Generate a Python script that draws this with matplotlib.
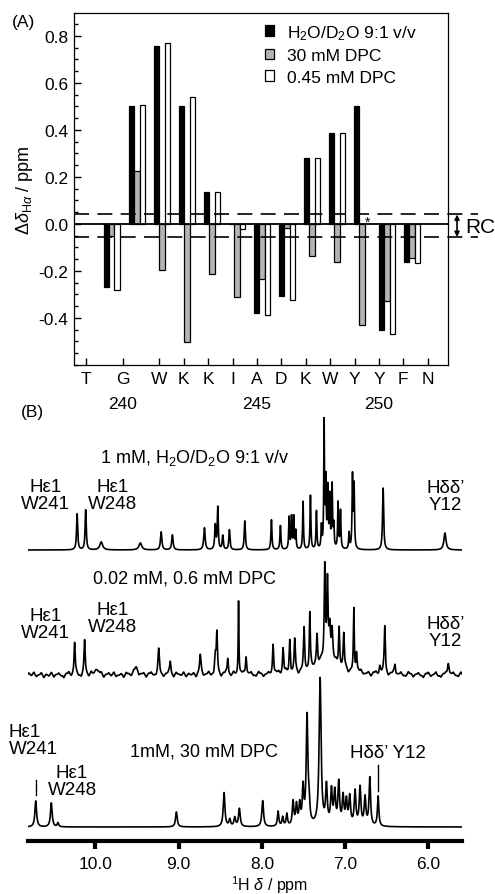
import numpy as np
import matplotlib
matplotlib.use("Agg")
import matplotlib.pyplot as plt
from matplotlib.patches import Patch
from matplotlib.ticker import MultipleLocator, FormatStrFormatter

plt.rcParams['font.family'] = ['Liberation Sans', 'DejaVu Sans']
plt.rcParams['mathtext.fontset'] = 'custom'
plt.rcParams['mathtext.rm'] = 'Liberation Sans'
plt.rcParams['mathtext.it'] = 'Liberation Sans:italic'
plt.rcParams['mathtext.bf'] = 'Liberation Sans:bold'
plt.rcParams['axes.unicode_minus'] = False

# --- (A) secondary H-alpha shifts per residue -------------------------------
residues = ['T', 'G', 'W', 'K', 'K', 'I', 'A', 'D', 'K', 'W', 'Y', 'Y', 'F', 'N']
residue_marks = [240, 245, 250]
shift_water = [-0.27, 0.50, 0.758, 0.50, 0.135, 0.0, -0.379, -0.309,
               0.28, 0.386, 0.50, -0.453, -0.161]
shift_dpc30 = [-0.05, 0.224, -0.196, -0.505, -0.215, -0.313, -0.234, -0.018,
               -0.136, -0.164, -0.432, -0.327, -0.147]
shift_dpc045 = [-0.28, 0.508, 0.772, 0.542, 0.135, -0.021, -0.386, -0.323,
                0.28, 0.386, np.nan, -0.47, -0.168]
rc_upper, rc_lower = 0.04, -0.056
series_labels = ['H$_2$O/D$_2$O 9:1 v/v', '30 mM DPC', '0.45 mM DPC']

# --- (B) 1D 1H spectra, amide/aromatic region: peak lists (ppm, height, hwhm)
water_pos = [10.22, 10.117, 9.93, 9.46, 9.21, 9.075, 8.69, 8.56, 8.53, 8.47,
             8.39, 8.205, 7.885, 7.777, 7.673, 7.644, 7.617, 7.593, 7.505,
             7.416, 7.344, 7.284, 7.252, 7.232, 7.208, 7.184, 7.156, 7.136,
             7.084, 7.055, 6.952, 6.911, 6.892, 6.543, 5.80]
water_h = [36, 40, 8, 7, 18, 15, 22, 24, 42, 14, 20, 29, 30, 24, 32, 32, 32,
           18, 48, 54, 38, 22, 124, 66, 58, 50, 62, 22, 46, 38, 16, 72, 62,
           62, 17]
water_w = [0.008, 0.008, 0.02, 0.02, 0.01, 0.01, 0.01, 0.008, 0.007, 0.008,
           0.008, 0.008, 0.007, 0.007, 0.006, 0.006, 0.006, 0.006, 0.006,
           0.006, 0.006, 0.006, 0.005, 0.006, 0.006, 0.006, 0.006, 0.006,
           0.006, 0.006, 0.006, 0.006, 0.006, 0.008, 0.015]

dilute_pos = [10.25, 10.13, 9.99, 9.51, 9.24, 9.10, 8.74, 8.56, 8.54, 8.41,
              8.28, 8.19, 7.865, 7.745, 7.665, 7.605, 7.493, 7.424, 7.337,
              7.244, 7.212, 7.184, 7.156, 7.22, 7.072, 7.016, 6.895, 6.863,
              6.583, 6.523, 6.40, 5.76]
dilute_h = [32, 34, 7, 9, 24, 14, 19, 18, 40, 16, 76, 20, 32, 25, 34, 33,
            42, 56, 30, 92, 74, 30, 30, 16, 40, 34, 62, 20, 8, 48, 11, 14]
dilute_w = [0.008, 0.008, 0.02, 0.02, 0.01, 0.01, 0.01, 0.01, 0.008, 0.008,
            0.005, 0.008, 0.008, 0.008, 0.008, 0.008, 0.008, 0.007, 0.008,
            0.008, 0.008, 0.01, 0.01, 0.15, 0.008, 0.008, 0.006, 0.008, 0.01,
            0.008, 0.01, 0.01]
# baseline noise of the dilute sample, one amplitude every 0.03 ppm
dilute_noise = [
    2, -1, 3, -2, 0, 2.5, -3, 1, -1.5, 3, -2.5, 0.5, 2, -1, -3, 1.5, 3, -2, 0, 2.5,
    -1.5, -3, 2, 1, -2.5, 3, -0.5, -2, 1.5, 2.5, -3, 0.5, 2, -1.5, 3, -2, -0.5, 1.5, -3, 2.5,
    1, -2, 3, -1, -2.5, 0.5, 2, -3, 1.5, 2.5, -1, -2, 3, 0, -2.5, 1, 2, -1.5, -3, 2.5,
    0.5, -1, 3, -2.5, 1.5, -0.5, 2, -3, 1, 2.5, -2, 0, 3, -1.5, -2.5, 2, 0.5, -3, 1.5, 2.5,
    -1, -2, 3, -0.5, -2.5, 1.5, 2, -3, 0.5, 2.5, -1.5, -2, 3, 1, -2.5, 0, 2, -1, -3, 1.5,
    2.5, -2, 0.5, 3, -1.5, -2.5, 1, 2, -3, 0.5, 2.5, -1, -2, 3, -0.5, 1.5, -2.5, 2, -3, 1,
    2.5, -1.5, 0, 3, -2, -1, 1.5, 2.5, -3, 0.5, 2, -2.5, 1, 3, -1.5, -0.5, 2, -3, 1.5, 2.5,
    -2, 0.5, 3, -1, -2.5, 1, 2, -3, 0, 2.5, -1.5, -2, 3, 1, -2.5, 0.5, 2, -1, -3, 1.5,
    2.5, -2, 0, 3, -1.5, -2.5, 1, 2, -3, 0.5, 2.5, -1, -2, 3]

micelle_pos = [10.717, 10.53, 10.45, 9.027, 8.454, 8.386, 8.325, 8.27, 7.99,
               7.805, 7.75, 7.70, 7.625, 7.584, 7.545, 7.505, 7.457, 7.433,
               7.30, 7.224, 7.164, 7.124, 7.076, 7.024, 6.984, 6.944, 6.88,
               6.82, 6.76, 6.703, 6.603]
micelle_h = [26, 24, 4, 15, 34, 7, 9, 18, 26, 15, 9, 12, 24, 20, 20, 36, 108,
             18, 147, 38, 34, 32, 42, 28, 24, 28, 34, 38, 28, 48, 30]
micelle_w = [0.012, 0.012, 0.01, 0.012, 0.012, 0.012, 0.012, 0.012, 0.012,
             0.01, 0.01, 0.01, 0.011, 0.011, 0.011, 0.011, 0.012, 0.01, 0.014,
             0.012, 0.012, 0.012, 0.012, 0.012, 0.012, 0.012, 0.012, 0.012,
             0.012, 0.011, 0.01]

fig = plt.figure(figsize=(4.95, 8.95), dpi=100)

# ---------------------------------------------------------------- panel B
# drawn first so that its (transparent) frame never hides panel A's labels
ax_b = fig.add_axes([28 / 495, 53 / 895, 434 / 495, 447 / 895])
ax_b.patch.set_visible(False)
ppm = np.linspace(10.81, 5.595, 6000)


def lorentz_sum(pos, height, hwhm):
    pos = np.asarray(pos)[:, None]
    height = np.asarray(height)[:, None]
    hwhm = np.asarray(hwhm)[:, None]
    return (height * hwhm ** 2 / ((ppm - pos) ** 2 + hwhm ** 2)).sum(axis=0)


noise_pos = 10.80 - 0.03 * np.arange(len(dilute_noise))
trace_water = lorentz_sum(water_pos, water_h, water_w)
trace_dilute = (lorentz_sum(dilute_pos, dilute_h, dilute_w)
                + lorentz_sum(noise_pos, dilute_noise,
                              np.full(len(dilute_noise), 0.011)))
trace_micelle = lorentz_sum(micelle_pos, micelle_h, micelle_w)

offsets = [291, 166, 14]
for trace, off in zip([trace_water, trace_dilute, trace_micelle], offsets):
    ax_b.plot(ppm, trace + off, color='black', lw=1.2)

ax_b.set_xlim(10.81, 5.595)
ax_b.set_ylim(0, 447)
for side in ('top', 'right', 'left'):
    ax_b.spines[side].set_visible(False)
ax_b.spines['bottom'].set_linewidth(3)
ax_b.set_yticks([])
ax_b.set_xticks([10, 9, 8, 7, 6])
ax_b.xaxis.set_major_formatter(FormatStrFormatter('%.1f'))
ax_b.tick_params(axis='x', direction='out', length=6, width=3, pad=4.5,
                 labelsize=12.5)
ax_b.set_xlabel(r'$^1$H $\delta$ / ppm', fontsize=11.5)
ax_b.xaxis.label.set_va('center')
ax_b.xaxis.set_label_coords(0.557, -0.097)

fig.text(21 / 495, 1 - 413 / 895, '(B)', fontsize=12.5, va='center')

lab = dict(fontsize=13.5, ha='center', va='center', linespacing=1.05)
# top trace
ax_b.text(9.948, 384, '1 mM, H$_2$O/D$_2$O 9:1 v/v', fontsize=13,
          ha='left', va='center')
ax_b.text(10.597, 346, 'Hε1\nW241', **lab)
ax_b.text(9.792, 346, 'Hε1\nW248', **lab)
ax_b.text(5.79, 345, 'Hδδ’\nY12', **lab)
# middle trace
ax_b.text(10.03, 263, '0.02 mM, 0.6 mM DPC', fontsize=13, ha='left',
          va='center')
ax_b.text(10.597, 217, 'Hε1\nW241', **lab)
ax_b.text(9.792, 223, 'Hε1\nW248', **lab)
ax_b.text(5.79, 209, 'Hδδ’\nY12', **lab)
# bottom trace
ax_b.text(11.04, 101, 'Hε1\nW241', fontsize=13.5, ha='left', va='center',
          linespacing=1.05)
ax_b.text(10.28, 60, 'Hε1\nW248', **lab)
ax_b.text(9.587, 90, '1mM, 30 mM DPC', fontsize=13, ha='left', va='center')
ax_b.text(6.944, 88, 'Hδδ’ Y12', fontsize=13.5, ha='left', va='center')
ax_b.plot([10.717, 10.717], [46, 61], color='black', lw=1)
ax_b.plot([6.603, 6.603], [50, 76], color='black', lw=1)

# ---------------------------------------------------------------- panel A
ax_a = fig.add_axes([74 / 495, 529 / 895, 374 / 495, 352 / 895])
group_x = 239.05 + 1.025 * np.arange(len(shift_water))
bw = 0.22
ax_a.bar(group_x - bw, shift_water, bw, color='black', edgecolor='black',
         lw=0.9, label=series_labels[0])
ax_a.bar(group_x, shift_dpc30, bw, color='#b4b4b4', edgecolor='black',
         lw=0.9, label=series_labels[1])
ax_a.bar(group_x + bw, shift_dpc045, bw, color='white', edgecolor='black',
         lw=0.9, label=series_labels[2])

ax_a.set_xlim(237.5, 252.83)
ax_a.set_ylim(-0.601, 0.898)
ax_a.axhline(0, color='black', lw=1.3, zorder=3)

# random-coil band, drawn past the frame to the RC marker
x_end = 254.06
for yv in (rc_upper, rc_lower):
    ax_a.plot([237.5, x_end], [yv, yv], color='black', lw=1.2,
              dashes=(9, 5), clip_on=False, zorder=3)
ax_a.annotate('', xy=(253.2, rc_lower), xytext=(253.2, rc_upper),
              arrowprops=dict(arrowstyle='<|-|>', lw=1.2, color='black',
                              mutation_scale=7, shrinkA=0, shrinkB=0),
              annotation_clip=False)
ax_a.text(253.55, -0.011, 'RC', fontsize=15, ha='left', va='center')
ax_a.text(249.55, 0.01, '*', fontsize=10, ha='center', va='center')

tick_pos = np.r_[238, 239.5, np.arange(241, 253)]
ax_a.set_xticks(tick_pos)
ax_a.set_xticklabels(residues)
for num in residue_marks:
    xpos = tick_pos[residues.index('G')] if num == 240 else num
    ax_a.text(xpos, -0.108, str(num), fontsize=12.5, ha='center',
              va='center', transform=ax_a.get_xaxis_transform())

ax_a.yaxis.set_major_locator(MultipleLocator(0.2))
ax_a.yaxis.set_minor_locator(MultipleLocator(0.05))
ax_a.yaxis.set_major_formatter(FormatStrFormatter('%.1f'))
ax_a.set_yticks([-0.4, -0.2, 0.0, 0.2, 0.4, 0.6, 0.8])
ax_a.tick_params(axis='x', direction='in', length=5, width=1, pad=4.5,
                 labelsize=12.5)
ax_a.tick_params(axis='y', which='major', direction='in', length=5,
                 width=1, pad=4, labelsize=12.5)
ax_a.tick_params(axis='y', which='minor', direction='in', length=3, width=1)
for sp in ax_a.spines.values():
    sp.set_linewidth(0.9)
ax_a.set_ylabel(r'$\Delta\delta_{\mathrm{H}\alpha}$ / ppm', fontsize=13)
ax_a.yaxis.set_label_coords(-39 / 374, 0.5)

handles = [Patch(facecolor='black', edgecolor='black', lw=0.9),
           Patch(facecolor='#b4b4b4', edgecolor='black', lw=0.9),
           Patch(facecolor='white', edgecolor='black', lw=0.9)]
ax_a.legend(handles, series_labels, loc='upper left',
            bbox_to_anchor=(0.51, 0.972), frameon=False, fontsize=12.5,
            handlelength=0.55, handleheight=0.55, handletextpad=0.75,
            labelspacing=0.38, borderpad=0, borderaxespad=0)
fig.text(12 / 495, 1 - 23 / 895, '(A)', fontsize=12.5, va='center')

fig.savefig('out.png', dpi=100)
